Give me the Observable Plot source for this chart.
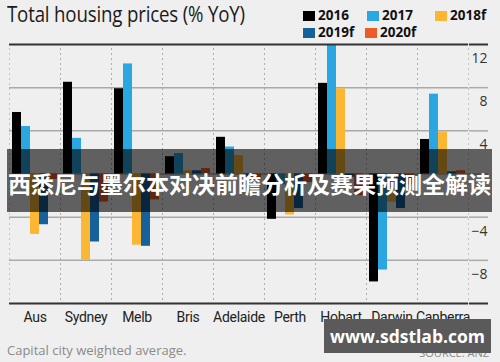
<!DOCTYPE html>
<html>
<head>
<meta charset="utf-8">
<script src="https://cdn.jsdelivr.net/npm/d3@7"></script>
<script src="https://cdn.jsdelivr.net/npm/@observablehq/plot@0.6"></script>
<style>
  html, body { margin: 0; padding: 0; }
  body { width: 500px; height: 362px; background: #efefef; overflow: hidden; font-family: "Open Sans", "Noto Sans", sans-serif; }
  #wrap { position: relative; width: 500px; height: 362px; }
  #title { position: absolute; left: 7px; top: 0px; font-size: 21px; color: #1a1a1a; white-space: nowrap; transform-origin: left top; transform: scaleX(0.89); letter-spacing: -0.2px; }
  .leg { position: absolute; display: flex; align-items: center; font-weight: 700; font-size: 13.5px; color: #111; white-space: nowrap; line-height: 1; }
  .sw { width: 12px; height: 10px; margin-right: 3px; }
  #chart { position: absolute; left: 0; top: 40px; }
  #chart [aria-label="fx-axis tick label"] text { font-family: Roboto, "Open Sans", sans-serif; font-size: 14px; letter-spacing: -0.3px; }
  #caption { position: absolute; left: 7px; top: 341px; font-size: 13px; color: #8a8a8a; }
  #source { position: absolute; right: 11px; top: 345px; font-size: 11px; color: #8a8a8a; }
  #banner { position: absolute; left: 7px; top: 149px; width: 485px; height: 63px; background: rgba(0,0,0,0.6); }
  #banner span { position: absolute; left: 0; right: 0; top: 19px; text-align: center; color: #fff; font-family: "Noto Sans CJK SC", sans-serif; font-weight: 700; font-size: 23px; line-height: 30px; white-space: nowrap; }
  #wm { position: absolute; left: 324px; top: 319px; width: 167px; height: 34px; background: #5a5a5a; color: #fff; font-weight: 700; font-size: 17.5px; text-align: center; line-height: 34px; font-family: "Open Sans", sans-serif; }
</style>
</head>
<body>
<div id="wrap">
  <div id="title">Total housing prices (% YoY)</div>
  <div id="chart"></div>
  <div id="caption">Capital city weighted average.</div>
  <div id="source">SOURCE: ANZ</div>
  <div id="banner"><span>西悉尼与墨尔本对决前瞻分析及赛果预测全解读</span></div>
  <div id="wm">www.sdstlab.com</div>
</div>
<script>
const cities = ["Aus", "Sydney", "Melb", "Bris", "Adelaide", "Perth", "Hobart", "Darwin", "Canberra"];
const series = ["2016", "2017", "2018f", "2019f", "2020f"];
const colors = ["#000000", "#2aa7e1", "#fbb733", "#16609c", "#ef5b27"];
const v2016  = [5.7, 8.5, 7.9, 1.6, 3.4, -4.2, 8.4, -10.0, 3.2];
const v2017  = [4.4, 3.3, 10.2, 1.9, 2.5, -1.0, 13.0, -8.9, 7.4];
const v2018f = [-5.6, -8.0, -6.6, 0.3, 1.7, -3.8, 7.9, -2.6, 3.9];
const v2019f = [-4.7, -6.3, -6.7, 0.3, -0.3, -3.2, -0.3, -3.2, 0.2];
const v2020f = [-0.5, -2.6, -2.4, 0.5, -0.4, -0.8, -2.0, -1.0, 0.3];
const yTickLabels = [12, 8, 4, -4, -8];
const gridValues = [8, 4, 0, -4, -8];
const edgeValues = [12, -12];

const values = [v2016, v2017, v2018f, v2019f, v2020f];
const rows = cities.flatMap((c, i) => series.map((s, j) => ({city: c, series: s, value: values[j][i]})));

// legend
const legPos = [[303, 9], [367, 9], [435, 9], [303, 26], [365, 26]];
const wrap = document.getElementById("wrap");
series.forEach((s, j) => {
  const d = document.createElement("div");
  d.className = "leg";
  d.style.left = legPos[j][0] + "px";
  d.style.top = legPos[j][1] + "px";
  d.innerHTML = `<span class="sw" style="background:${colors[j]}"></span><span>${s}</span>`;
  wrap.appendChild(d);
});

const chart = Plot.plot({
  width: 500,
  height: 290,
  marginTop: 4,
  marginBottom: 27,
  marginLeft: 5,
  marginRight: 29,
  style: {fontFamily: "Open Sans, sans-serif", fontSize: "14px", background: "transparent", color: "#222"},
  fx: {domain: cities, padding: 0, label: null, tickSize: 0, tickPadding: 9},
  x: {domain: series, axis: null, paddingInner: 0, paddingOuter: 0.25},
  y: {domain: [-12, 12]},
  color: {domain: series, range: colors},
  marks: [
    Plot.frame({stroke: "#999", strokeDasharray: "1 4"}),
    Plot.ruleY(gridValues, {stroke: "#aaa", strokeWidth: 1.5}),
    Plot.barY(rows, {fx: "city", x: "series", y: "value", fill: "series", clip: true}),
    Plot.ruleY(edgeValues, {stroke: "#333", strokeWidth: 2}),
    Plot.axisY({anchor: "right", ticks: gridValues, tickSize: 19, stroke: "#aaa", strokeWidth: 1.5, fill: "none", label: null}),
    Plot.axisY({anchor: "right", ticks: edgeValues, tickSize: 19, stroke: "#333", strokeWidth: 2, fill: "none", label: null}),
    Plot.axisY({anchor: "right", ticks: yTickLabels, tickSize: 0, tickPadding: 19, textAnchor: "end", dy: 14, fill: "#333", fontSize: 14, stroke: "none", label: null})
  ]
});
document.getElementById("chart").appendChild(chart);
</script>
</body>
</html>
